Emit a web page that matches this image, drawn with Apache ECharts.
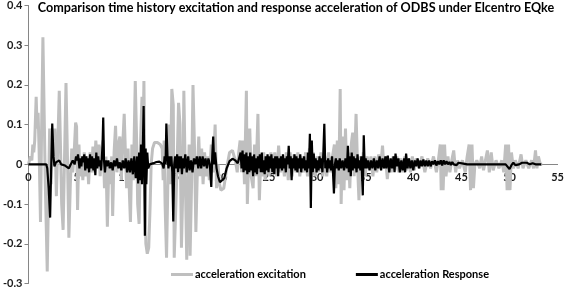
<!DOCTYPE html>
<html>
<head>
<meta charset="utf-8">
<script src="https://cdn.jsdelivr.net/npm/echarts@6/dist/echarts.min.js"></script>
<style>
  html, body { margin: 0; padding: 0; background: #fff; }
  #chart { width: 567px; height: 289px; }
</style>
</head>
<body>
<div id="chart"></div>
<script>
  // [time (s), acceleration (g)]
  var excitation = [
    [0,0],[0.1,0],[0.2,0.02],[0.35,0.01],[0.45,0.05],[0.55,0.03],[0.65,0.06],[0.8,0.17],[0.9,0.09],[1.0,0.13],
    [1.1,0.04],[1.25,-0.145],[1.35,0.06],[1.5,0.32],[1.65,0.1],[1.75,-0.05],[1.95,-0.27],[2.1,-0.05],[2.2,0.09],[2.35,-0.05],
    [2.5,0.09],[2.65,0.03],[2.75,0.09],[2.9,-0.08],[3.05,0.05],[3.2,0.185],[3.35,0.02],[3.45,-0.1],[3.6,-0.165],[3.75,0.02],
    [3.9,0.205],[4.05,0.02],[4.2,-0.185],[4.35,-0.05],[4.5,0.04],[4.6,-0.02],[4.75,0.03],[4.9,0.105],[5.0,0.095],[5.1,-0.115],
    [5.25,0.05],[5.35,-0.03],[5.5,0.02],[5.65,-0.04],[5.8,0.03],[5.95,-0.03],[6.1,0.02],[6.25,-0.05],[6.4,0.03],[6.55,-0.02],
    [6.7,0.045],[6.85,-0.02],[7.0,0.06],[7.15,0.0],[7.3,0.05],[7.45,-0.03],[7.6,0.04],[7.75,0.06],[7.9,-0.06],[8.05,0.02],
    [8.2,-0.157],[8.35,0.0],[8.5,-0.05],[8.65,0.02],[8.75,-0.13],[8.9,0.03],[9.05,0.097],[9.2,-0.02],[9.35,0.05],[9.5,0.07],
    [9.65,-0.04],[9.8,0.05],[9.95,0.127],[10.1,0.01],[10.2,-0.06],[10.35,0.04],[10.5,-0.08],[10.6,-0.145],[10.75,0.05],[10.9,-0.04],
    [11.1,0.21],[11.25,0.05],[11.35,-0.1],[11.5,-0.15],[11.65,0.06],[11.8,0.17],[11.9,0.05],[12.0,0.21],[12.1,-0.05],[12.2,-0.2],
    [12.35,-0.225],[12.5,-0.21],[12.65,-0.1],[12.75,0.0],[12.9,0.04],[13.1,0.055],[13.4,0.055],[13.7,0.05],[13.9,0.04],[14.0,-0.04],
    [14.1,0.06],[14.2,-0.1],[14.35,-0.235],[14.5,-0.23],[14.6,0.1],[14.75,-0.05],[14.9,0.19],[15.05,0.15],[15.15,-0.235],[15.3,-0.235],
    [15.45,0.0],[15.6,0.155],[15.75,0.1],[15.9,-0.21],[16.05,-0.05],[16.15,0.185],[16.3,0.18],[16.45,-0.24],[16.55,-0.1],[16.7,0.05],
    [16.8,-0.23],[16.95,-0.05],[17.1,0.2],[17.25,0.05],[17.4,-0.17],[17.55,-0.02],[17.7,0.07],[17.85,-0.03],[18.0,0.04],[18.15,-0.05],
    [18.3,0.03],[18.5,-0.03],[18.65,0.02],[18.8,-0.04],[19.0,0.05],[19.2,-0.02],[19.4,0.1],[19.55,-0.06],[19.7,0.0],[19.85,-0.05],
    [20.0,-0.065],[20.3,-0.06],[20.6,-0.01],[20.9,0.03],[21.2,0.035],[21.5,0.01],[21.7,-0.02],[21.85,0.03],[22.0,0.06],[22.15,-0.02],
    [22.3,0.06],[22.45,-0.05],[22.65,0.185],[22.75,-0.1],[22.9,0.02],[23.0,0.09],[23.15,-0.03],[23.35,-0.06],[23.5,0.05],[23.65,-0.03],
    [23.85,0.127],[24.0,-0.09],[24.15,0.02],[24.3,-0.03],[24.45,0.03],[24.6,-0.04],[24.8,0.02],[25.0,-0.03],[25.2,0.03],[25.4,-0.02],
    [25.6,0.03],[25.8,-0.03],[26.0,0.047],[26.2,-0.02],[26.4,0.02],[26.6,-0.03],[26.8,0.03],[27.0,-0.04],[27.2,0.03],[27.4,-0.03],
    [27.6,0.025],[27.8,-0.02],[28.0,0.03],[28.2,-0.03],[28.4,0.02],[28.6,-0.02],[28.8,0.03],[29.0,-0.03],[29.2,0.04],[29.4,-0.04],
    [29.6,0.03],[29.8,-0.03],[30.0,0.02],[30.2,-0.02],[30.4,0.03],[30.6,-0.03],[30.8,0.02],[31.0,-0.03],[31.2,0.03],[31.4,-0.02],
    [31.6,0.02],[31.8,0.05],[31.95,-0.06],[32.1,0.06],[32.25,-0.05],[32.4,0.19],[32.5,-0.1],[32.65,0.07],[32.8,-0.065],[32.95,0.09],
    [33.1,-0.04],[33.25,0.03],[33.4,-0.06],[33.55,0.05],[33.7,0.08],[33.85,-0.03],[34.05,0.127],[34.2,0.0],[34.35,-0.09],[34.5,0.02],
    [34.65,-0.04],[34.8,0.03],[35.0,-0.03],[35.2,0.02],[35.4,-0.01],[35.6,0.02],[35.8,-0.03],[36.0,0.02],[36.2,-0.02],[36.4,0.025],
    [36.6,-0.01],[36.8,0.047],[36.95,-0.01],[37.1,0.02],[37.3,-0.037],[37.5,0.01],[37.7,-0.02],[37.9,0.02],[38.1,-0.015],[38.3,0.02],
    [38.5,-0.02],[38.7,0.015],[38.9,-0.02],[39.1,0.02],[39.3,-0.015],[39.5,0.015],[39.7,-0.02],[39.9,0.02],[40.1,-0.015],[40.3,0.015],
    [40.6,-0.01],[40.9,0.02],[41.2,-0.02],[41.5,0.015],[41.8,-0.01],[42.1,0.02],[42.4,-0.02],[42.6,0.01],[42.8,0.05],[42.9,-0.065],
    [43.0,0.05],[43.1,-0.065],[43.25,0.05],[43.4,-0.03],[43.6,0.02],[43.8,-0.02],[44.0,0.01],[44.2,0.035],[44.4,-0.02],[44.6,0.01],
    [44.8,-0.01],[45.1,0.01],[45.4,-0.02],[45.6,0.02],[45.8,0.05],[45.95,-0.065],[46.1,0.05],[46.25,-0.06],[46.4,0.0],[46.6,0.01],
    [46.9,-0.01],[47.1,0.02],[47.3,-0.015],[47.5,0.01],[47.7,0.035],[47.9,-0.02],[48.1,0.03],[48.3,-0.015],[48.6,0.01],[48.9,-0.01],
    [49.2,0.01],[49.4,-0.02],[49.6,0.05],[49.75,-0.065],[49.9,0.05],[50.05,-0.065],[50.2,0.03],[50.4,-0.01],[50.6,0.01],[50.9,-0.01],
    [51.2,0.025],[51.4,-0.01],[51.7,0.01],[52.0,-0.01],[52.3,0.01],[52.5,-0.01],[52.7,0.035],[52.85,-0.01],[53.0,0.02],[53.2,0.0],
    [53.4,0.0]
  ];

  var response = [
    [0,0],[1.85,0],[1.95,-0.01],[2.1,-0.06],[2.25,-0.134],[2.35,-0.02],[2.47,0.103],[2.6,0.02],[2.7,-0.005],[2.85,0.005],
    [3.0,0.0],[3.2,0.01],[3.4,0.0],[3.6,0.005],[3.8,-0.003],[4.0,0.0],[4.2,-0.01],[4.4,-0.005],[4.6,0.01],[4.8,0.0],
    [4.95,0.02],[5.05,0.01],[5.15,0.025],[5.3,-0.01],[5.4,0.015],[5.5,-0.005],[5.6,0.02],[5.7,0.005],[5.8,0.025],[5.9,-0.015],
    [6.0,0.02],[6.1,-0.01],[6.2,0.015],[6.3,-0.02],[6.4,0.025],[6.5,-0.01],[6.6,0.02],[6.75,-0.015],[6.85,0.015],[6.95,-0.027],
    [7.05,0.03],[7.15,-0.01],[7.25,0.02],[7.35,-0.005],[7.45,0.01],[7.55,-0.015],[7.7,0.05],[7.77,0.118],[7.85,0.01],[7.95,-0.02],
    [8.05,0.01],[8.15,-0.005],[8.3,0.01],[8.45,-0.01],[8.6,0.005],[8.75,-0.015],[8.9,0.01],[9.05,-0.005],[9.2,0.015],[9.35,-0.01],
    [9.5,0.005],[9.65,-0.015],[9.8,0.01],[9.95,-0.01],[10.1,0.015],[10.25,-0.02],[10.4,0.01],[10.55,-0.02],[10.7,0.015],[10.85,-0.025],
    [11.0,0.02],[11.15,-0.035],[11.3,0.02],[11.4,-0.048],[11.5,0.03],[11.6,-0.04],[11.7,0.05],[11.8,-0.05],[11.9,0.06],[11.97,0.147],
    [12.05,-0.04],[12.1,-0.18],[12.18,0.04],[12.25,-0.05],[12.35,0.03],[12.45,-0.01],[12.6,0.0],[12.8,0.0],[13.0,0.003],[13.3,0.006],
    [13.6,0.007],[13.9,0.002],[14.05,-0.01],[14.15,0.02],[14.25,0.0],[14.33,0.103],[14.45,0.02],[14.55,-0.01],[14.65,0.02],[14.75,-0.005],
    [14.85,0.02],[14.95,-0.02],[15.05,-0.144],[15.15,0.0],[15.25,0.02],[15.35,-0.01],[15.45,0.025],[15.55,-0.02],[15.65,0.02],[15.75,-0.01],
    [15.85,0.02],[15.95,-0.025],[16.05,0.015],[16.15,-0.01],[16.3,0.025],[16.45,-0.02],[16.6,0.02],[16.75,-0.015],[16.9,0.01],[17.05,-0.02],
    [17.2,0.015],[17.35,0.0],[17.5,0.02],[17.65,-0.01],[17.8,0.02],[17.95,-0.01],[18.1,0.02],[18.25,-0.005],[18.4,0.015],[18.55,-0.01],
    [18.7,0.015],[18.85,0.0],[19.0,-0.057],[19.1,0.02],[19.2,0.07],[19.3,0.0],[19.4,0.03],[19.55,-0.01],[19.7,-0.03],[19.9,-0.045],
    [20.1,-0.048],[20.35,-0.035],[20.6,-0.01],[20.9,0.008],[21.2,0.014],[21.5,0.01],[21.75,0.003],[21.95,0.0],[22.05,0.03],[22.15,-0.01],
    [22.25,0.035],[22.35,-0.02],[22.45,0.025],[22.55,-0.015],[22.65,0.03],[22.75,-0.025],[22.85,0.02],[22.95,-0.02],[23.05,0.03],[23.15,-0.015],
    [23.25,0.02],[23.35,-0.03],[23.45,0.025],[23.55,-0.02],[23.65,0.015],[23.75,-0.025],[23.85,0.02],[23.95,-0.01],[24.05,0.025],[24.15,-0.02],
    [24.25,0.03],[24.35,-0.02],[24.45,0.01],[24.55,-0.025],[24.65,0.02],[24.75,-0.015],[24.85,0.025],[24.95,-0.02],[25.05,0.02],[25.15,-0.01],
    [25.25,0.025],[25.35,-0.02],[25.45,0.015],[25.55,-0.025],[25.65,0.02],[25.75,-0.01],[25.85,0.02],[25.95,-0.03],[26.05,0.015],[26.15,-0.01],
    [26.25,0.02],[26.35,-0.015],[26.45,0.025],[26.55,-0.01],[26.65,0.015],[26.75,-0.02],[26.85,0.02],[26.95,0.0],[27.05,0.047],[27.15,-0.01],
    [27.25,0.02],[27.35,-0.04],[27.45,0.015],[27.55,-0.01],[27.65,0.025],[27.75,-0.015],[27.85,0.02],[27.95,-0.02],[28.05,0.015],[28.15,-0.01],
    [28.25,0.025],[28.35,-0.02],[28.45,0.015],[28.55,-0.01],[28.65,0.02],[28.75,-0.015],[28.85,0.01],[28.95,-0.02],[29.05,0.03],[29.15,-0.01],
    [29.25,0.077],[29.35,-0.11],[29.45,0.06],[29.55,-0.02],[29.65,0.027],[29.75,-0.01],[29.85,0.015],[29.95,-0.02],[30.05,0.01],[30.15,-0.015],
    [30.25,0.02],[30.35,-0.01],[30.45,0.015],[30.55,-0.02],[30.65,0.03],[30.75,0.102],[30.85,-0.01],[30.95,0.01],[31.05,-0.02],[31.15,0.015],
    [31.25,-0.01],[31.35,0.01],[31.45,-0.015],[31.55,0.02],[31.65,-0.02],[31.75,-0.073],[31.85,0.0],[31.95,0.015],[32.05,-0.01],[32.15,0.01],
    [32.25,-0.015],[32.35,0.015],[32.5,-0.01],[32.65,0.01],[32.8,-0.015],[32.95,0.015],[33.1,-0.01],[33.2,0.047],[33.3,-0.02],[33.4,0.02],
    [33.5,-0.03],[33.6,0.03],[33.7,-0.015],[33.8,0.02],[33.9,-0.01],[34.0,0.015],[34.1,-0.02],[34.2,0.025],[34.3,-0.01],[34.4,0.01],
    [34.5,-0.015],[34.6,0.02],[34.75,-0.078],[34.85,0.073],[34.95,-0.01],[35.05,0.015],[35.15,-0.01],[35.3,0.01],[35.45,-0.015],[35.6,0.01],
    [35.75,-0.01],[35.9,0.015],[36.05,-0.015],[36.2,0.01],[36.35,-0.01],[36.5,0.02],[36.65,-0.015],[36.8,0.015],[36.95,-0.01],[37.1,0.02],
    [37.2,-0.01],[37.35,0.022],[37.5,-0.02],[37.65,0.015],[37.8,-0.01],[37.95,0.02],[38.05,-0.02],[38.15,0.027],[38.3,-0.005],[38.45,0.015],
    [38.6,-0.02],[38.75,0.01],[38.9,-0.015],[39.05,0.015],[39.15,-0.02],[39.25,0.027],[39.4,-0.01],[39.55,0.015],[39.7,-0.01],[39.85,0.01],
    [40.0,-0.015],[40.15,0.01],[40.3,-0.005],[40.45,0.015],[40.6,-0.01],[40.75,0.01],[40.9,-0.005],[41.05,0.012],[41.2,-0.005],[41.35,0.01],
    [41.5,-0.005],[41.65,0.01],[41.8,-0.005],[41.95,0.008],[42.1,0.0],[42.25,0.01],[42.4,-0.003],[42.55,0.008],[42.7,0.0],[42.85,0.01],
    [43.0,-0.003],[43.15,0.01],[43.3,0.0],[43.45,0.008],[43.6,0.0],[43.75,0.006],[43.9,-0.002],[44.05,0.006],[44.2,0.0],[44.35,0.005],
    [44.5,-0.002],[44.7,0.004],[44.9,0.0],[45.2,0.002],[45.6,0.0],[49.6,0.0],[49.8,-0.005],[50.0,-0.012],[50.2,-0.002],[50.4,0.004],
    [50.6,-0.002],[50.8,0.003],[51.0,0.0],[51.3,0.004],[51.5,-0.001],[51.8,0.004],[52.1,0.0],[52.4,0.003],[52.7,0.0],[53.3,0.0]
  ];

  var seriesNames = ['acceleration excitation', 'acceleration Response'];
  var seriesColors = ['#bfbfbf', '#000000'];
  var yMin = -0.3, yMax = 0.4;

  var gridTop = 5, gridBottom = 5, chartHeight = 289;
  // shift the x axis up from the grid bottom to the zero line
  var plotHeight = chartHeight - gridTop - gridBottom;
  var zeroOffset = -plotHeight * (0 - yMin) / (yMax - yMin);

  var myChart = echarts.init(document.getElementById('chart'), null, { renderer: 'canvas' });

  var option = {
    animation: false,
    textStyle: { fontFamily: 'Lato' },
    title: {
      text: 'Comparison time history excitation and response acceleration of ODBS under Elcentro EQke',
      left: 296,
      textAlign: 'center',
      top: 1,
      padding: 0,
      textStyle: { fontSize: 12.6, fontWeight: 'bold', color: '#000', fontFamily: 'Lato' }
    },
    legend: {
      data: seriesNames,
      left: 166,
      top: 264,
      itemGap: 50,
      itemWidth: 22,
      itemHeight: 3,
      icon: 'rect',
      textStyle: { fontSize: 11, fontWeight: 'bold', color: '#000', fontFamily: 'Lato', padding: [0, 0, 0, -3] }
    },
    grid: { left: 27, right: 7, top: gridTop, bottom: gridBottom, containLabel: false },
    xAxis: {
      type: 'value',
      min: 0,
      max: 55,
      interval: 5,
      offset: zeroOffset,
      axisLine: { onZero: false, lineStyle: { color: '#868686', width: 1 } },
      axisTick: { show: false },
      splitLine: { show: false },
      axisLabel: { fontSize: 11, fontWeight: 'bold', color: '#1a1a1a', margin: 8 }
    },
    yAxis: {
      type: 'value',
      min: yMin,
      max: yMax,
      interval: 0.1,
      axisLine: { show: true, onZero: false, lineStyle: { color: '#868686', width: 1 } },
      axisTick: { show: true, length: 4, lineStyle: { color: '#868686' } },
      splitLine: { show: false },
      axisLabel: {
        fontSize: 11, fontWeight: 'bold', color: '#1a1a1a', margin: 6,
        formatter: function (v) { return String(Math.round(v * 10) / 10); }
      }
    },
    series: [
      {
        name: seriesNames[0],
        type: 'line',
        data: excitation,
        showSymbol: false,
        color: seriesColors[0],
        lineStyle: { width: 3, color: seriesColors[0] },
        z: 2
      },
      {
        name: seriesNames[1],
        type: 'line',
        data: response,
        showSymbol: false,
        color: seriesColors[1],
        lineStyle: { width: 2.2, color: seriesColors[1] },
        z: 3
      }
    ]
  };

  myChart.setOption(option);
</script>
</body>
</html>
